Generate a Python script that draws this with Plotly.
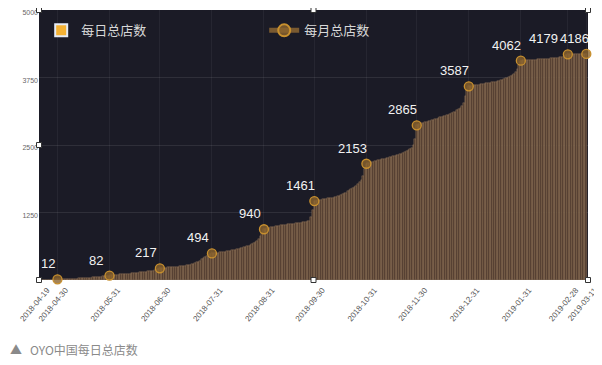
import pandas as pd
import plotly.graph_objects as go

# ---- data ----
apr = [0, 0, 1, 1, 2, 3, 4, 5, 6, 8, 10, 12]
may = [13, 14, 15, 16, 17, 18, 19, 20, 22, 24, 25, 27, 29, 31, 33, 35, 37, 40, 42, 45,
       48, 51, 54, 57, 60, 63, 66, 70, 74, 78, 82]
jun = [86, 90, 93, 96, 99, 102, 105, 108, 111, 114, 117, 120, 123, 126, 129, 132, 136, 140,
       144, 148, 152, 156, 160, 165, 170, 176, 183, 192, 204, 217]
jul = [220, 223, 226, 229, 232, 235, 238, 241, 244, 247, 250, 253, 256, 260, 265, 270, 276,
       283, 290, 300, 312, 326, 342, 360, 380, 400, 420, 440, 460, 478, 494]
aug = [497, 500, 504, 508, 512, 516, 520, 525, 530, 536, 542, 548, 555, 562, 570, 578, 586,
       595, 605, 615, 626, 638, 651, 665, 680, 700, 725, 760, 810, 870, 940]
sep = [950, 960, 968, 975, 982, 988, 994, 1000, 1005, 1010, 1015, 1020, 1024, 1028, 1032,
       1036, 1040, 1044, 1048, 1052, 1056, 1060, 1065, 1070, 1076, 1084, 1100, 1160, 1300, 1461]
oct_ = [1470, 1478, 1485, 1490, 1495, 1500, 1505, 1510, 1515, 1520, 1525, 1530, 1540, 1550,
        1560, 1575, 1590, 1605, 1620, 1640, 1660, 1680, 1700, 1725, 1750, 1780, 1810, 1850,
        1920, 2050, 2153]
nov = [2160, 2170, 2180, 2190, 2200, 2210, 2218, 2226, 2234, 2242, 2250, 2258, 2266, 2274,
       2282, 2290, 2300, 2310, 2320, 2330, 2342, 2355, 2370, 2385, 2400, 2420, 2450, 2500,
       2620, 2865]
dec = [2880, 2890, 2900, 2910, 2920, 2930, 2940, 2950, 2960, 2970, 2980, 2990, 3000, 3010,
       3020, 3030, 3040, 3050, 3060, 3075, 3090, 3105, 3120, 3140, 3160, 3185, 3220, 3280,
       3400, 3520, 3587]
jan = [3595, 3600, 3605, 3610, 3615, 3620, 3625, 3630, 3635, 3640, 3645, 3650, 3655, 3660,
       3665, 3670, 3680, 3690, 3700, 3710, 3720, 3735, 3750, 3765, 3780, 3800, 3820, 3850,
       3900, 3980, 4062]
feb = [4065, 4068, 4070, 4072, 4074, 4076, 4078, 4080, 4082, 4084, 4086, 4088, 4090, 4092,
       4095, 4098, 4101, 4104, 4107, 4110, 4114, 4118, 4122, 4127, 4133, 4145, 4160, 4179]
mar = [4180, 4181, 4181, 4182, 4183, 4183, 4184, 4184, 4185, 4185, 4186]

daily_values = apr + may + jun + jul + aug + sep + oct_ + nov + dec + jan + feb + mar
daily_dates = pd.date_range("2018-04-19", "2019-03-11", freq="D")

monthly_dates = ["2018-04-30", "2018-05-31", "2018-06-30", "2018-07-31", "2018-08-31",
                 "2018-09-30", "2018-10-31", "2018-11-30", "2018-12-31", "2019-01-31",
                 "2019-02-28", "2019-03-11"]
monthly_values = [12, 82, 217, 494, 940, 1461, 2153, 2865, 3587, 4062, 4179, 4186]

tick_dates = ["2018-04-19"] + monthly_dates
y_ticks = [1250, 2500, 3750, 5000]

BAR_LEGEND = "#f4b234"
DOT_FILL = "rgba(140,100,45,0.8)"
DOT_LINE = "#c8902e"

fig = go.Figure()
fig.add_trace(go.Bar(
    x=daily_dates, y=daily_values, name="每日总店数", showlegend=False,
    marker=dict(color="#4e392d", line=dict(color="rgba(225,185,140,0.55)", width=0.45)),
))
fig.add_trace(go.Scatter(
    x=monthly_dates, y=monthly_values, name="每月总店数", showlegend=False,
    mode="markers",
    marker=dict(symbol="circle", size=9, color=DOT_FILL, line=dict(color=DOT_LINE, width=1.3)),
    cliponaxis=False,
))
# legend entries
fig.add_trace(go.Bar(x=[None], y=[None], name="每日总店数", marker=dict(color=BAR_LEGEND)))
fig.add_trace(go.Scatter(
    x=[None], y=[None], name="每月总店数", mode="lines+markers",
    line=dict(color="#7a5a30", width=1.2),
    marker=dict(symbol="circle", size=9, color=DOT_FILL, line=dict(color=DOT_LINE, width=1.5)),
))

# value labels above-left of the monthly points
label_shift = {"2018-04-30": -9, "2019-02-28": -24, "2019-03-11": -12}
for d, v in zip(monthly_dates, monthly_values):
    fig.add_annotation(
        x=d, y=v, text=str(v), showarrow=False,
        xanchor="center", yanchor="bottom",
        xshift=label_shift.get(d, -14), yshift=6,
        font=dict(color="#f2f2f2", size=13, family="Liberation Sans, Arial"),
    )

# the page adds an 8px body margin, so the figure is drawn 8px smaller
fig.update_layout(
    width=594, height=357,
    margin=dict(l=31, r=14, t=2, b=85),
    paper_bgcolor="white", plot_bgcolor="#1b1b26",
    bargap=0, barmode="overlay",
    showlegend=True,
    legend=dict(orientation="h", x=0.004, y=0.98, xanchor="left", yanchor="top",
                bgcolor="rgba(0,0,0,0)", entrywidth=178, entrywidthmode="pixels",
                font=dict(color="#d8d8d8", size=13, family="Noto Sans CJK SC"),
                itemsizing="constant"),
    font=dict(family="Liberation Sans, Arial"),
)
fig.update_xaxes(
    type="date", range=["2018-04-19", "2019-03-12"],
    tickmode="array", tickvals=tick_dates, ticktext=tick_dates,
    tickangle=-50, tickfont=dict(size=8, color="#555555"),
    ticklabelshift=8, ticklabelstandoff=3,
    showgrid=True, gridcolor="rgba(255,255,255,0.05)", gridwidth=1,
    showline=False, zeroline=False, ticks="", automargin=False,
    ticklabeloverflow="allow",
)
fig.update_yaxes(
    range=[0, 5000], tickmode="array", tickvals=y_ticks,
    tickfont=dict(size=7, color="#666666"), ticklabelshift=3,
    showgrid=True, gridcolor="rgba(255,255,255,0.09)", gridwidth=1,
    zeroline=False, showline=False, ticks="", automargin=False,
    ticklabeloverflow="allow",
)

# selection handles (decorative)
for hx, hy in [(0, 1), (0.5, 1), (1, 1), (0, 0), (0.5, 0), (1, 0), (0, 0.5)]:
    fig.add_shape(type="rect", xref="paper", yref="paper",
                  xsizemode="pixel", ysizemode="pixel", xanchor=hx, yanchor=hy,
                  x0=-2.5, x1=2.5, y0=-2.5, y1=2.5,
                  line=dict(color="#333333", width=1), fillcolor="white")

fig.add_annotation(
    xref="paper", yref="paper", x=-0.0565, y=-0.259, xanchor="left", yanchor="middle",
    text="▲   OYO中国每日总店数", showarrow=False,
    font=dict(size=12, color="#8a8a8a", family="Noto Sans CJK SC"),
)

fig.write_html("out.html")
